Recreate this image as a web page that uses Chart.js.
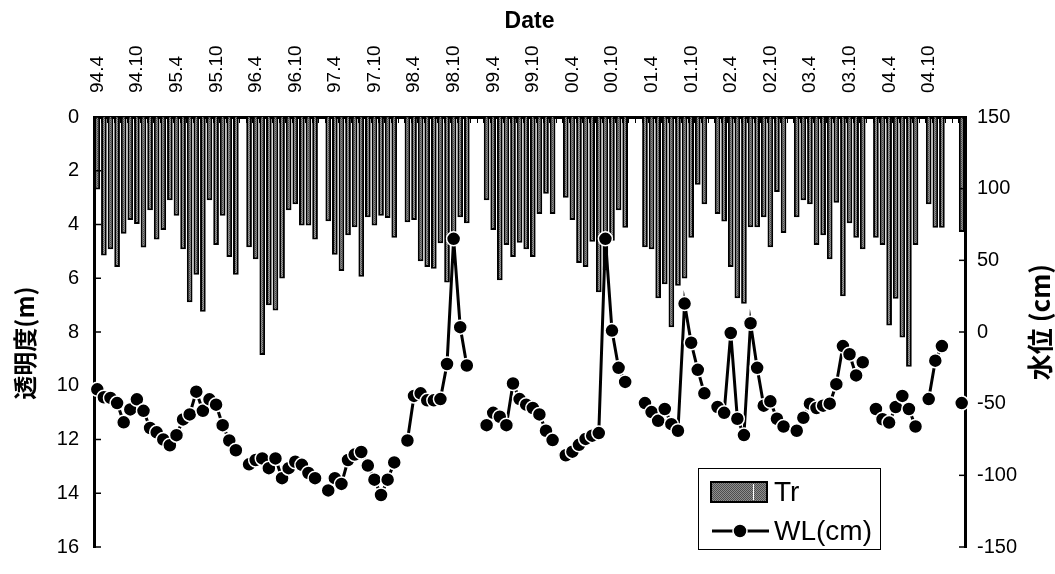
<!DOCTYPE html>
<html>
<head>
<meta charset="utf-8">
<script src="https://cdn.jsdelivr.net/npm/chart.js@4.4.1/dist/chart.umd.min.js"></script>
<style>
  html, body { margin: 0; padding: 0; background: #fff; }
  #wrap { width: 1055px; height: 574px; }
</style>
</head>
<body>
<div id="wrap"><canvas id="chart" width="1055" height="574"></canvas></div>
<script>
// ==== Data (monthly, fiscal years 94.4 - 05.3) ====
const months = [
  '94.4','94.5','94.6','94.7','94.8','94.9','94.10','94.11','94.12','95.1','95.2','95.3',
  '95.4','95.5','95.6','95.7','95.8','95.9','95.10','95.11','95.12','96.1','96.2','96.3',
  '96.4','96.5','96.6','96.7','96.8','96.9','96.10','96.11','96.12','97.1','97.2','97.3',
  '97.4','97.5','97.6','97.7','97.8','97.9','97.10','97.11','97.12','98.1','98.2','98.3',
  '98.4','98.5','98.6','98.7','98.8','98.9','98.10','98.11','98.12','99.1','99.2','99.3',
  '99.4','99.5','99.6','99.7','99.8','99.9','99.10','99.11','99.12','00.1','00.2','00.3',
  '00.4','00.5','00.6','00.7','00.8','00.9','00.10','00.11','00.12','01.1','01.2','01.3',
  '01.4','01.5','01.6','01.7','01.8','01.9','01.10','01.11','01.12','02.1','02.2','02.3',
  '02.4','02.5','02.6','02.7','02.8','02.9','02.10','02.11','02.12','03.1','03.2','03.3',
  '03.4','03.5','03.6','03.7','03.8','03.9','03.10','03.11','03.12','04.1','04.2','04.3',
  '04.4','04.5','04.6','04.7','04.8','04.9','04.10','04.11','04.12','05.1','05.2','05.3'
];

const shownTicks = ['94.4','94.10','95.4','95.10','96.4','96.10','97.4','97.10','98.4','98.10',
  '99.4','99.10','00.4','00.10','01.4','01.10','02.4','02.10','03.4','03.10','04.4','04.10'];

// transparency (m)
const tr = [
  2.7, 5.15, 4.92, 5.58, 4.34, 3.83, 3.98, 4.86, 3.47, 4.56, 4.2, 3.1,
  3.67, 4.92, 6.89, 5.87, 7.25, 3.1, 4.76, 3.67, 5.21, 5.87, null, 4.85,
  5.29, 8.86, 7.0, 7.2, 6.01, 3.47, 3.25, 4.04, 4.04, 4.56, null, 3.88,
  5.13, 5.73, 4.4, 4.1, 5.94, 3.73, 4.04, 3.67, 3.76, 4.49, null, 3.92,
  3.83, 5.37, 5.58, 5.65, 4.7, 6.16, 4.5, 3.73, 3.95, null, null, 3.1,
  4.2, 6.07, 4.76, 5.21, 4.68, 4.92, 5.21, 3.61, 2.86, 3.61, null, 3.0,
  3.83, 5.43, 5.58, 4.64, 6.52, 5.7, 4.6, 3.47, 4.12, null, null, 4.85,
  4.92, 6.74, 6.22, 7.82, 6.28, 6.01, 4.49, 2.52, 3.25, null, 3.61, 3.89,
  5.58, 6.74, 6.95, 4.1, 4.1, 3.73, 4.85, 2.79, 4.32, null, 3.73, 3.1,
  3.25, 4.76, 4.4, 5.29, 3.19, 6.67, 3.95, 4.49, 4.92, null, 4.49, 4.76,
  7.76, 6.76, 8.2, 9.29, 4.76, null, 3.25, 4.12, 4.12, null, null, 4.28
];

// water level (cm)
const wl = [
  -40, -45.5, -46, -49.6, -63, -54, -47, -55, -67, -70, -75, -79,
  -72, -61, -57.5, -41.6, -55, -47, -50.7, -65, -75.7, -82.5, null, -92.3,
  -89.3, -88.2, -95, -88.2, -102, -95, -90.5, -92.7, -98.4, -102, null, -110.5,
  -102, -106, -89.3, -85.5, -83.7, -93.2, -103, -113.7, -103, -91, null, -75.7,
  -44.6, -42.8, -47.7, -47.7, -46.8, -22.3, 65, 3.4, -23.4, null, null, -65,
  -56.4, -59.1, -65, -35.9, -46.8, -50.7, -53, -57.5, -68.9, -75.4, null, -86,
  -83.5, -78.7, -74.6, -72.3, -70.5, 65, 1, -25, -34.8, null, null, -49.6,
  -55.9, -62, -53.7, -64.3, -68.9, 19.8, -7.5, -26.4, -42.8, null, -52.3, -56.4,
  -0.7, -60.5, -71.9, 6.1, -25, -51.4, -48.4, -60.5, -65.9, null, -68.9, -59.8,
  -50, -53, -51.4, -50, -36.4, -9.8, -15.5, -30.3, -21.1, null, -53.7, -60.9,
  -63.2, -52.3, -44.6, -53.7, -65.9, null, -46.8, -20, -9.8, null, null, -49.6
];

const FONT = 'Liberation Sans, Arial, sans-serif';
const CJK = '"Noto Sans CJK JP", "Liberation Sans", sans-serif';

const canvas = document.getElementById('chart');
const ctx = canvas.getContext('2d');

// dotted gray fill like the old spreadsheet bars
const pc = document.createElement('canvas');
pc.width = 2; pc.height = 2;
const pctx = pc.getContext('2d');
pctx.fillStyle = '#8e8e8e'; pctx.fillRect(0, 0, 2, 2);
pctx.fillStyle = '#4e4e4e'; pctx.fillRect(0, 0, 1, 1); pctx.fillRect(1, 1, 1, 1);
const barFill = ctx.createPattern(pc, 'repeat');

// inward ticks, titles and legend
const decor = {
  id: 'decor',
  afterDraw(chart) {
    const c = chart.ctx;
    const { left, right, top } = chart.chartArea;
    const ys = chart.scales.y, ys2 = chart.scales.y2;
    c.save();
    c.strokeStyle = '#000';
    c.lineWidth = 1.5;
    ys.ticks.forEach(t => {
      const y = ys.getPixelForValue(t.value);
      c.beginPath(); c.moveTo(left, y); c.lineTo(left + 7, y); c.stroke();
    });
    ys2.ticks.forEach(t => {
      const y = ys2.getPixelForValue(t.value);
      c.beginPath(); c.moveTo(right, y); c.lineTo(right - 6, y); c.stroke();
    });
    c.lineWidth = 1;
    const w = (right - left) / months.length;
    for (let k = 0; k <= months.length; k++) {
      const x = Math.round(left + k * w) + 0.5;
      c.beginPath(); c.moveTo(x, top); c.lineTo(x, top + 6); c.stroke();
    }

    // axis titles, both reading bottom to top
    c.fillStyle = '#000';
    c.textAlign = 'center';
    c.textBaseline = 'middle';
    c.font = 'bold 24px ' + CJK;
    c.save(); c.translate(25, 343); c.rotate(-Math.PI / 2); c.fillText('透明度(m)', 0, 0); c.restore();
    c.font = 'bold 26px ' + CJK;
    c.save(); c.translate(1040, 322); c.rotate(-Math.PI / 2); c.fillText('水位 (cm)', 0, 0); c.restore();

    // legend box
    c.fillStyle = '#fff';
    c.fillRect(698, 468, 182, 81);
    c.lineWidth = 1;
    c.strokeRect(698.5, 468.5, 182, 81);
    c.fillStyle = barFill;
    c.fillRect(711, 482, 56, 20);
    c.lineWidth = 2;
    c.strokeRect(711, 482, 56, 20);
    c.strokeStyle = '#fff';
    c.lineWidth = 1;
    c.beginPath(); c.moveTo(753.5, 484); c.lineTo(753.5, 500); c.stroke();
    c.strokeStyle = '#000';
    c.lineWidth = 3;
    c.beginPath(); c.moveTo(712, 531); c.lineTo(769, 531); c.stroke();
    c.beginPath(); c.arc(740, 531, 7, 0, Math.PI * 2);
    c.fillStyle = '#000'; c.fill();
    c.strokeStyle = '#fff'; c.lineWidth = 1.5; c.stroke();
    c.fillStyle = '#000';
    c.textAlign = 'left';
    c.font = '28px ' + FONT;
    c.fillText('Tr', 774, 493);
    c.fillText('WL(cm)', 774, 532);
    c.restore();
  }
};

const tickFont = { family: FONT, size: 20 };

new Chart(ctx, {
  type: 'bar',
  data: {
    labels: months,
    datasets: [
      {
        type: 'line',
        label: 'WL(cm)',
        data: wl,
        yAxisID: 'y2',
        borderColor: '#000',
        borderWidth: 3,
        pointRadius: 7,
        pointBackgroundColor: '#000',
        pointBorderColor: '#fff',
        pointBorderWidth: 1.5,
        spanGaps: false,
        tension: 0,
        order: 1
      },
      {
        type: 'bar',
        label: 'Tr',
        data: tr,
        yAxisID: 'y',
        backgroundColor: barFill,
        borderColor: '#000',
        borderWidth: 2,
        barPercentage: 0.86,
        categoryPercentage: 1,
        order: 2
      }
    ]
  },
  options: {
    responsive: false,
    animation: false,
    layout: { padding: { top: 0, bottom: 17, left: 0, right: 0 } },
    plugins: { legend: { display: false }, tooltip: { enabled: false } },
    scales: {
      x: {
        position: 'top',
        offset: true,
        grid: { display: false, drawTicks: false },
        border: { display: true, color: '#000', width: 3 },
        ticks: {
          autoSkip: false,
          minRotation: 90,
          maxRotation: 90,
          padding: 24,
          labelOffset: 23,
          color: '#000',
          font: { family: FONT, size: 19 },
          callback(v) {
            const lab = this.getLabelForValue(v);
            return shownTicks.includes(lab) ? lab : '';
          }
        },
        title: {
          display: true,
          text: 'Date',
          color: '#000',
          font: { family: FONT, size: 23, weight: 'bold' },
          padding: { top: 8, bottom: 0 }
        },
        afterFit(s) { s.height = 117; }
      },
      y: {
        position: 'left',
        reverse: true,
        min: 0,
        max: 16,
        grid: { display: false, drawTicks: false },
        border: { display: true, color: '#000', width: 3 },
        ticks: { stepSize: 2, padding: 15, color: '#000', font: tickFont },
        afterFit(s) { s.width = 94; }
      },
      y2: {
        position: 'right',
        min: -150,
        max: 150,
        grid: { display: false, drawTicks: false },
        border: { display: true, color: '#000', width: 3 },
        ticks: { stepSize: 50, padding: 12, color: '#000', font: tickFont },
        afterFit(s) { s.width = 90; }
      }
    }
  },
  plugins: [decor]
});
</script>
</body>
</html>
